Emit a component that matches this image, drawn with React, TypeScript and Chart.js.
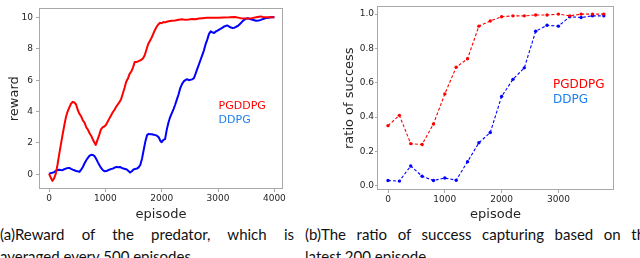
import React, { useEffect, useRef } from "react";
import { Chart, registerables } from "chart.js";

Chart.register(...registerables);

// ---------- data ----------
const seriesNames = ["PGDDPG", "DDPG"];

const rewardXTicks = [0, 1000, 2000, 3000, 4000];
const rewardYTicks = [0, 2, 4, 6, 8, 10];
const rewardYTickLabels = ["0", "2", "4", "6", "8", "10"];

const successXTicks = [0, 1000, 2000, 3000];
const successYTicks = [0, 0.2, 0.4, 0.6, 0.8, 1.0];
const successYTickLabels = ["0.0", "0.2", "0.4", "0.6", "0.8", "1.0"];

const pgddpgRewardEpisodes = [
  0, 30, 60, 90, 120, 150, 180, 210, 240, 270, 300, 330, 360, 390, 420, 450, 480, 510, 540, 570,
  600, 630, 660, 690, 720, 750, 780, 810, 830, 860, 890, 920, 950, 980, 1010, 1040, 1070, 1100,
  1130, 1160, 1190, 1220, 1250, 1280, 1310, 1340, 1370, 1400, 1430, 1460, 1490, 1520, 1550, 1580,
  1610, 1640, 1670, 1700, 1730, 1760, 1790, 1820, 1850, 1880, 1910, 1940, 1970, 2000, 2030, 2060,
  2090, 2120, 2180, 2240, 2300, 2360, 2420, 2480, 2540, 2600, 2660, 2720, 2800, 2900, 3000, 3100,
  3200, 3300, 3400, 3500, 3600, 3700, 3760, 3820, 3900, 4000,
];
const pgddpgReward = [
  0.05, -0.2, -0.41, -0.25, 0.05, 0.6, 1.28, 1.9, 2.52, 3.1, 3.65, 4.0, 4.27, 4.5, 4.62, 4.58, 4.45,
  4.1, 3.85, 3.7, 3.44, 3.3, 3.0, 2.85, 2.62, 2.45, 2.2, 2.0, 1.88, 2.2, 2.5, 2.85, 3.0, 3.05, 3.15,
  3.35, 3.55, 3.75, 3.95, 4.1, 4.3, 4.45, 4.6, 4.8, 5.15, 5.5, 5.9, 6.1, 6.4, 6.55, 6.8, 7.15, 7.15,
  7.2, 7.25, 7.3, 7.4, 7.6, 7.95, 8.3, 8.5, 8.7, 8.95, 9.2, 9.4, 9.55, 9.65, 9.62, 9.7, 9.68, 9.72,
  9.75, 9.78, 9.8, 9.85, 9.88, 9.84, 9.86, 9.9, 9.88, 9.93, 9.95, 9.97, 9.98, 9.98, 9.99, 10.0,
  10.02, 9.95, 9.92, 9.95, 10.02, 10.06, 10.0, 10.0, 10.0,
];

const ddpgRewardEpisodes = [
  0, 30, 60, 90, 120, 150, 180, 210, 240, 270, 300, 330, 360, 390, 420, 450, 480, 510, 540, 570,
  600, 630, 660, 690, 720, 750, 780, 810, 840, 870, 900, 930, 960, 990, 1020, 1050, 1080, 1110,
  1140, 1170, 1200, 1230, 1260, 1290, 1320, 1350, 1380, 1410, 1440, 1470, 1500, 1530, 1560, 1590,
  1620, 1650, 1680, 1710, 1740, 1770, 1800, 1830, 1860, 1890, 1920, 1950, 1980, 2000, 2030, 2060,
  2090, 2120, 2150, 2180, 2210, 2240, 2270, 2300, 2330, 2360, 2390, 2420, 2450, 2480, 2510, 2540,
  2570, 2600, 2630, 2660, 2690, 2720, 2750, 2780, 2810, 2840, 2870, 2900, 2930, 2960, 2990, 3020,
  3050, 3080, 3110, 3140, 3170, 3200, 3230, 3260, 3290, 3320, 3350, 3380, 3410, 3440, 3470, 3500,
  3530, 3560, 3600, 3640, 3680, 3720, 3760, 3800, 3850, 3900, 3960, 4000,
];
const ddpgReward = [
  0.05, 0.08, 0.1, 0.15, 0.22, 0.28, 0.3, 0.28, 0.27, 0.33, 0.37, 0.4, 0.41, 0.35, 0.3, 0.26, 0.22,
  0.2, 0.16, 0.3, 0.47, 0.7, 0.9, 1.05, 1.19, 1.25, 1.24, 1.15, 0.97, 0.75, 0.55, 0.38, 0.26, 0.2,
  0.21, 0.27, 0.31, 0.35, 0.38, 0.44, 0.48, 0.45, 0.47, 0.42, 0.37, 0.34, 0.31, 0.22, 0.12, 0.2,
  0.31, 0.35, 0.37, 0.45, 0.6, 1.0, 1.55, 2.1, 2.5, 2.58, 2.55, 2.56, 2.52, 2.5, 2.45, 2.35, 2.1,
  2.05, 2.2, 2.25, 2.85, 3.3, 3.65, 3.9, 4.16, 4.45, 4.78, 5.1, 5.5, 5.75, 5.92, 6.0, 6.06, 6.0,
  6.02, 6.05, 6.12, 6.4, 6.7, 7.0, 7.3, 7.6, 7.9, 8.3, 8.6, 8.95, 9.11, 9.05, 9.0, 9.1, 9.15, 9.22,
  9.28, 9.35, 9.42, 9.46, 9.48, 9.4, 9.35, 9.32, 9.34, 9.4, 9.45, 9.55, 9.65, 9.78, 9.85, 9.92,
  9.94, 9.9, 9.86, 9.82, 9.78, 9.8, 9.84, 9.9, 9.95, 9.98, 10.02, 10.0,
];

const successEpisodes = [
  0, 200, 400, 600, 800, 1000, 1200, 1400, 1600, 1800, 2000, 2200, 2400, 2600, 2800, 3000, 3200,
  3400, 3600, 3800,
];
const pgddpgSuccess = [
  0.35, 0.41, 0.245, 0.24, 0.36, 0.535, 0.69, 0.74, 0.93, 0.96, 0.985, 0.99, 0.99, 0.995, 0.995,
  1.0, 0.99, 1.0, 1.0, 1.0,
];
const ddpgSuccess = [
  0.03, 0.027, 0.115, 0.055, 0.03, 0.045, 0.032, 0.14, 0.25, 0.31, 0.52, 0.62, 0.687, 0.9, 0.935,
  0.93, 0.985, 0.98, 0.99, 0.99,
];

// ---------- styling ----------
const RED = "#ff0000";
const BLUE = "#0000ff";
const LABEL_BLUE = "#1e7ff0";
const FRAME = "#a9a9a9";
const TEXT = "#262626";
const FONT = "'DejaVu Sans', sans-serif";

const framePlugin = {
  id: "frameAndLabels",
  afterDraw(chart: any, _args: any, opts: any) {
    const { ctx, chartArea: a } = chart;
    ctx.save();
    ctx.strokeStyle = FRAME;
    ctx.lineWidth = 1;
    ctx.strokeRect(
      Math.round(a.left) + 0.5,
      Math.round(a.top) + 0.5,
      Math.round(a.right - a.left) - 1,
      Math.round(a.bottom - a.top) - 1
    );
    const xs = chart.scales.x;
    const ys = chart.scales.y;
    (opts.labels || []).forEach((l: any) => {
      ctx.fillStyle = l.color;
      ctx.font = l.font;
      ctx.textBaseline = "middle";
      ctx.textAlign = "left";
      ctx.fillText(l.text, xs.getPixelForValue(l.x), ys.getPixelForValue(l.y));
    });
    ctx.restore();
  },
};

function pairs(xs: number[], ys: number[]) {
  return xs.map((x, i) => ({ x, y: ys[i] }));
}

function makeConfig(p: any) {
  return {
    type: "line",
    data: { datasets: p.datasets },
    options: {
      animation: false,
      responsive: false,
      maintainAspectRatio: false,
      layout: { padding: { top: p.padTop, right: p.padRight, left: 0, bottom: 0 } },
      plugins: {
        legend: { display: false },
        tooltip: { enabled: false },
        frameAndLabels: { labels: p.labels },
      },
      scales: {
        x: {
          type: "linear",
          min: p.xMin,
          max: p.xMax,
          afterBuildTicks: (s: any) => {
            s.ticks = p.xTicks.map((v: number) => ({ value: v }));
          },
          afterFit: (s: any) => {
            s.height = p.xAxisHeight;
          },
          ticks: {
            autoSkip: false,
            maxRotation: 0,
            padding: 1,
            color: TEXT,
            font: { family: FONT, size: 9 },
            callback: (v: number) => String(v),
          },
          grid: { drawOnChartArea: false, drawTicks: true, tickLength: 3, color: FRAME },
          border: { display: false },
          title: {
            display: true,
            text: "episode",
            color: TEXT,
            font: { family: FONT, size: 13 },
            padding: { top: 0, bottom: 0 },
          },
        },
        y: {
          type: "linear",
          min: p.yMin,
          max: p.yMax,
          afterBuildTicks: (s: any) => {
            s.ticks = p.yTicks.map((v: number) => ({ value: v }));
          },
          afterFit: (s: any) => {
            s.width = p.yAxisWidth;
          },
          ticks: {
            autoSkip: false,
            padding: p.yTickPad,
            color: TEXT,
            font: { family: FONT, size: 9 },
            callback: (v: number) => p.yTickLabels[p.yTicks.indexOf(v)],
          },
          grid: { drawOnChartArea: false, drawTicks: true, tickLength: p.yTickLen, color: FRAME },
          border: { display: false },
          title: {
            display: true,
            text: p.yTitle,
            color: TEXT,
            font: { family: FONT, size: 13 },
            padding: { top: p.yTitlePad, bottom: 0 },
          },
        },
      },
    },
    plugins: [framePlugin],
  };
}

export default function App() {
  const leftRef = useRef<HTMLCanvasElement | null>(null);
  const rightRef = useRef<HTMLCanvasElement | null>(null);

  useEffect(() => {
    const left = new Chart(
      leftRef.current as HTMLCanvasElement,
      makeConfig({
        datasets: [
          {
            label: seriesNames[0],
            data: pairs(pgddpgRewardEpisodes, pgddpgReward),
            borderColor: RED,
            backgroundColor: RED,
            borderWidth: 2,
            pointRadius: 0,
            tension: 0,
            borderJoinStyle: "round",
          },
          {
            label: seriesNames[1],
            data: pairs(ddpgRewardEpisodes, ddpgReward),
            borderColor: BLUE,
            backgroundColor: BLUE,
            borderWidth: 2,
            pointRadius: 0,
            tension: 0,
            borderJoinStyle: "round",
          },
        ],
        labels: [
          { text: seriesNames[0], color: RED, font: `11px ${FONT}`, x: 3010, y: 4.33 },
          { text: seriesNames[1], color: LABEL_BLUE, font: `11px ${FONT}`, x: 3010, y: 3.45 },
        ],
        xMin: -178,
        xMax: 4153,
        yMin: -0.93,
        yMax: 10.57,
        xTicks: rewardXTicks,
        yTicks: rewardYTicks,
        yTickLabels: rewardYTickLabels,
        padTop: 3,
        padRight: 37,
        xAxisHeight: 33,
        yAxisWidth: 39,
        yTickPad: 3,
        yTickLen: 3,
        yTitle: "reward",
        yTitlePad: 7.2,
      }) as any
    );

    const right = new Chart(
      rightRef.current as HTMLCanvasElement,
      makeConfig({
        datasets: [
          {
            label: seriesNames[0],
            data: pairs(successEpisodes, pgddpgSuccess),
            borderColor: RED,
            backgroundColor: RED,
            borderWidth: 1.1,
            borderDash: [3, 2],
            pointRadius: 1.7,
            pointBorderWidth: 0,
            pointBackgroundColor: RED,
            tension: 0,
          },
          {
            label: seriesNames[1],
            data: pairs(successEpisodes, ddpgSuccess),
            borderColor: BLUE,
            backgroundColor: BLUE,
            borderWidth: 1.1,
            borderDash: [3, 2],
            pointRadius: 1.7,
            pointBorderWidth: 0,
            pointBackgroundColor: BLUE,
            tension: 0,
          },
        ],
        labels: [
          { text: seriesNames[0], color: RED, font: `12px ${FONT}`, x: 2905, y: 0.586 },
          { text: seriesNames[1], color: LABEL_BLUE, font: `12px ${FONT}`, x: 2905, y: 0.5 },
        ],
        xMin: -194,
        xMax: 3979,
        yMin: -0.025,
        yMax: 1.045,
        xTicks: successXTicks,
        yTicks: successYTicks,
        yTickLabels: successYTickLabels,
        padTop: 2,
        padRight: 26,
        xAxisHeight: 32,
        yAxisWidth: 57,
        yTickPad: 1,
        yTickLen: 2,
        yTitle: "ratio of success",
        yTitlePad: 22.2,
      }) as any
    );

    return () => {
      left.destroy();
      right.destroy();
    };
  }, []);

  const captionFont = "15px Lato, 'Open Sans', sans-serif";
  const justifyLine: React.CSSProperties = {
    textAlign: "justify",
    textAlignLast: "justify" as any,
    whiteSpace: "normal",
  };

  return (
    <div
      style={{
        position: "fixed",
        left: 0,
        top: 0,
        width: 640,
        height: 258,
        overflow: "hidden",
        background: "#fff",
      }}
    >
      <canvas ref={leftRef} width={320} height={222} style={{ position: "absolute", left: 0, top: 0 }} />
      <canvas ref={rightRef} width={320} height={222} style={{ position: "absolute", left: 320, top: 0 }} />
      <div
        style={{
          position: "absolute",
          left: 0,
          top: 223,
          width: 294,
          font: captionFont,
          lineHeight: "22px",
          color: "#111",
        }}
      >
        <div style={justifyLine}>(a)Reward of the predator, which is</div>
        <div style={{ whiteSpace: "nowrap" }}>averaged every 500 episodes</div>
      </div>
      <div
        style={{
          position: "absolute",
          left: 305,
          top: 223,
          width: 348,
          font: captionFont,
          lineHeight: "22px",
          color: "#111",
        }}
      >
        <div style={justifyLine}>(b)The ratio of success capturing based on the</div>
        <div style={{ whiteSpace: "nowrap" }}>latest 200 episode</div>
      </div>
    </div>
  );
}
